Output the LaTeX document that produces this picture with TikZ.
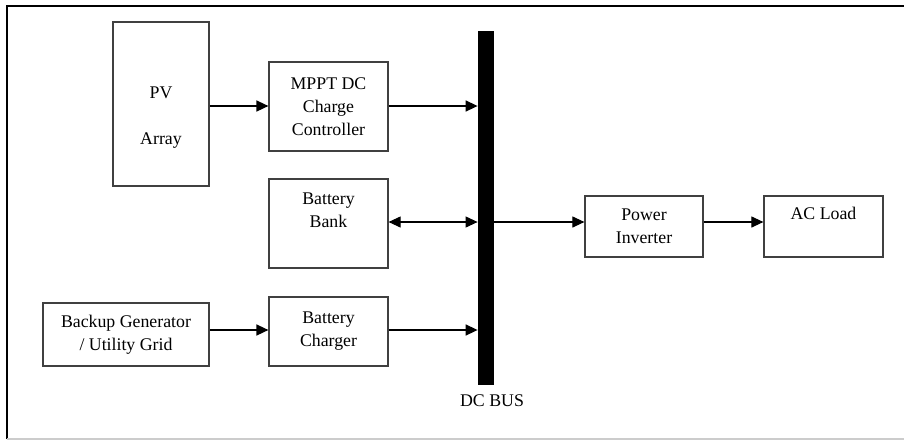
\documentclass[tikz,border=0pt]{standalone}
\usepackage{fontspec}
\setmainfont{Liberation Serif}
\usetikzlibrary{arrows.meta}

\begin{document}
\begin{tikzpicture}[x=0.5pt,y=-0.5pt,
  blk/.style={draw=black!75,line width=0.6pt,inner sep=0pt},
  txt/.style={align=center,font=\fontsize{8.9}{11.5}\selectfont},
  arr/.style={line width=0.55pt,-{Triangle[length=6pt,width=5.5pt]}}]
\useasboundingbox (0,0) rectangle (904,440);
% frame
\draw[line width=1pt] (7,439) -- (7,6) -- (904,6);
\draw[gray!40,line width=0.6pt] (7,439) -- (904,439);
% blocks
\node[blk,minimum width=48pt,minimum height=82pt] (pv) at (161,104) {};
\node[txt] (pvtxt) at (161,118) {PV\\[11.5pt]Array};
\node[blk,txt,minimum width=59.5pt,minimum height=44.5pt] (mppt) at (328.5,106.5) {MPPT DC\\Charge\\Controller};
\node[blk,minimum width=59.5pt,minimum height=44.5pt] (bank) at (328.5,223.5) {};
\node[txt] (banktxt) at (328.5,210) {Battery\\Bank};
\node[blk,txt,minimum width=83pt,minimum height=31.5pt] (backup) at (126,334.5) {Backup Generator\\/ Utility Grid};
\node[blk,txt,minimum width=59.5pt,minimum height=34.5pt] (charger) at (328.5,331.5) {Battery\\Charger};
\node[blk,txt,minimum width=59pt,minimum height=30.5pt] (inv) at (644,226.5) {Power\\Inverter};
\node[blk,minimum width=59.5pt,minimum height=30.5pt] (load) at (823.5,226.5) {};
\node[txt] (loadtxt) at (823.5,213) {AC Load};
% dc bus
\node[fill=black,inner sep=0pt,minimum width=8pt,minimum height=177pt] (bus) at (486,208) {};
\node[txt] (buslbl) at (492,401) {DC BUS};
% connections
\coordinate (tap) at (bus.east |- 0,222);
\draw[arr,line width=0.75pt] (pv.east |- 0,106) -- (mppt.west |- 0,106);
\draw[arr,line width=0.75pt] (mppt.east |- 0,106) -- (bus.west |- 0,106);
\draw[line width=0.55pt,{Triangle[length=6pt,width=5.5pt]}-{Triangle[length=6pt,width=5.5pt]}] (bank.east |- tap) -- (bus.west |- tap);
\draw[arr,line width=0.75pt] (backup.east |- 0,330) -- (charger.west |- 0,330);
\draw[arr,line width=0.75pt] (charger.east |- 0,330) -- (bus.west |- 0,330);
\draw[arr] (tap) -- (inv.west |- tap);
\draw[arr] (inv.east |- tap) -- (load.west |- tap);
\end{tikzpicture}
\end{document}
